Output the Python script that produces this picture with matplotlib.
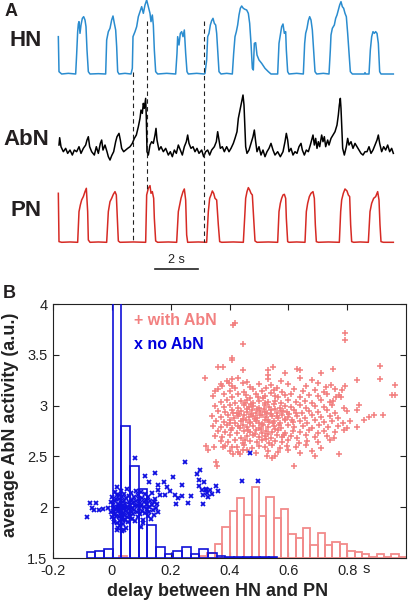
import matplotlib
matplotlib.use("Agg")
import matplotlib.pyplot as plt
from matplotlib.ticker import FormatStrFormatter
import numpy as np

plt.rcParams['font.family'] = ['Liberation Sans', 'DejaVu Sans']
plt.rcParams['axes.unicode_minus'] = False

# ---------------- Panel A data (frames at 64.5 frames/s, amplitudes a.u.) ----------------
FRAME_RATE = 64.5
hn_frames = [10,12,20,40,62,65,68,70,72,75,78,82,86,90,93,96,100,105,130,152,155,160,165,170,174,178,182,185,188,192,210,
             228,232,234,240,245,250,255,260,265,270,275,280,285,288,292,295,298,302,308,335,362,366,368,372,376,380,384,388,
             392,396,400,425,448,450,455,458,462,466,470,474,478,482,485,488,492,498,515,532,536,540,544,548,552,556,560,565,
             570,575,580,584,588,592,595,598,602,606,612,620,630,640,648,668,672,676,680,684,688,692,694,698,702,725,745,749,
             752,756,760,764,768,772,776,780,785,805,822,826,828,832,838,842,846,850,854,858,862,866,870,874,878,882,886,892,
             928,930,932,942,946,950,954,958,962,966,970,974,978,1015]
hn_amp = [112,7,0,2,0,60,127,150,157,122,147,167,172,162,142,72,7,0,1,0,102,127,137,162,174,152,132,82,7,0,2,
          0,17,112,127,142,172,187,202,182,207,222,202,182,157,177,147,72,7,0,2,0,62,112,87,122,127,112,132,
          62,7,0,2,0,2,42,112,122,147,160,167,152,147,122,72,7,0,2,0,62,112,127,147,177,197,204,197,
          194,192,182,152,92,17,12,92,94,57,42,32,17,7,0,0,92,117,142,150,122,127,72,7,0,2,0,92,
          122,137,160,172,162,132,72,7,0,2,0,72,117,137,147,167,177,192,207,217,202,197,182,172,122,62,7,0,
          0,4,0,0,72,112,127,122,127,122,92,7,0,0]

abn_frames = [12,14,18,25,32,38,45,52,58,65,72,78,85,92,96,100,104,110,118,124,130,136,140,144,150,156,160,165,170,176,
              182,186,192,196,200,206,212,218,225,232,238,244,250,255,258,262,265,268,272,274,276,280,285,290,295,300,303,
              306,312,318,325,332,340,346,352,358,364,370,376,382,388,394,398,402,408,414,420,426,432,440,446,452,458,464,
              470,478,484,488,492,496,502,508,515,522,528,535,540,546,550,556,560,564,567,569,572,576,582,588,594,598,602,
              606,612,618,624,630,636,642,648,654,660,668,676,684,690,694,698,702,708,714,720,726,732,738,742,748,754,760,
              766,770,774,778,782,786,790,794,800,804,808,812,818,822,828,834,840,846,850,853,856,858,860,863,868,874,878,
              882,888,894,900,906,912,918,924,930,936,942,948,954,960,966,970,974,980,986,992,998,1004,1010,1015]
abn_amp = [20,42,15,0,10,-5,5,-10,5,0,15,-5,10,20,35,45,15,0,-10,15,-5,25,35,5,20,0,-15,-25,-12,0,
           30,45,55,35,10,0,5,10,15,25,40,50,75,100,125,115,145,130,160,100,0,-10,20,30,25,50,70,
           35,5,15,0,10,-10,0,-15,5,-5,20,5,-10,15,30,50,25,10,15,0,10,-5,5,-15,0,5,-10,
           5,15,30,60,35,10,15,0,15,0,10,25,40,60,100,130,150,170,140,90,15,-5,5,25,45,65,30,
           0,15,-10,5,-15,0,10,25,5,-10,0,-15,0,30,55,35,0,10,-10,0,-5,15,25,5,-10,5,0,
           20,35,50,20,40,10,30,15,50,30,45,15,35,20,40,50,60,80,110,140,160,130,80,10,-10,15,40,
           20,30,10,25,15,5,-5,-10,0,0,15,-5,5,20,35,50,25,0,15,5,20,0,10,-5]

pn_frames = [10,12,20,45,68,72,76,80,85,90,94,98,100,105,130,155,160,165,170,175,180,184,187,190,195,235,272,275,280,285,
             288,292,296,298,302,308,340,365,370,374,378,384,388,392,395,398,430,455,460,464,468,472,476,480,485,490,494,
             500,535,565,570,572,576,580,584,588,592,596,600,606,640,668,672,676,680,684,688,692,694,698,702,725,750,754,
             758,763,768,774,778,781,784,790,820,853,857,860,865,870,876,880,884,887,890,896,915,940,945,950,956,962,968,
             972,975,978,985,1015]
pn_amp = [147,2,0,1,0,92,112,127,137,152,162,92,7,0,1,0,92,122,132,144,152,142,72,4,0,1,0,142,162,170,
          147,152,132,72,4,0,1,0,92,112,132,152,160,127,22,0,1,0,92,132,142,154,147,132,127,52,2,
          0,1,0,92,132,152,164,157,147,142,72,4,0,1,0,92,117,132,142,144,132,72,2,0,1,0,92,
          117,137,147,152,132,52,2,0,1,0,92,127,147,160,154,142,137,52,2,0,1,0,92,117,132,137,152,
          127,52,2,0,0]

marker_frames = [234, 275, 448]   # dashed alignment lines
SCALEBAR_S = 2.0

# ---------------- Panel B data ----------------
blue_edges_start, blue_width = -0.086, 0.0295
blue_tops = [1.556, 1.572, 1.589, 4.5, 2.80, 2.41, 2.18, 1.825, 1.61, 1.536, 1.572, 1.61, 1.536, 1.589,
             1.545, 1.52, 1.51, 1.51, 1.505, 1.505, 1.505, 1.505]
red_edges_start, red_width = 0.325, 0.025
red_tops = [1.55, 1.64, 1.81, 1.965, 2.09, 1.92, 2.20, 1.91, 2.10, 1.89, 1.98, 1.74, 1.70, 1.80, 1.63, 1.75,
            1.63, 1.66, 1.64, 1.57, 1.556, 1.536, 1.513, 1.536, 1.51, 1.536, 1.51]
red_small_x = [0.025, 0.30]
red_small_tops = [1.52, 1.515]

red_pts = [
 (0.412,3.79),(0.420,3.81),(0.447,3.61),(0.794,3.71),(0.794,3.65),(0.409,3.47),(0.409,3.45),(0.361,3.38),
 (0.379,3.38),(0.316,3.27),(0.447,3.35),(0.532,3.35),(0.532,3.30),(0.549,3.38),(0.589,3.32),(0.630,3.36),
 (0.639,3.35),(0.712,3.32),(0.752,3.36),(0.911,3.39),(0.911,3.26),(0.832,3.25),(0.729,3.18),(0.962,3.20),
 (0.954,3.10),(0.962,3.10),(0.793,3.19),(0.783,3.15),(0.773,3.10),(0.761,3.08),(0.752,3.05),(0.840,3.01),
 (0.832,2.96),(0.922,2.91),(0.891,2.91),(0.874,2.89),(0.857,2.86),(0.834,2.79),(0.320,2.60),(0.328,2.56),
 (0.347,2.59),(0.379,2.59),(0.425,2.59),(0.354,2.44),(0.356,2.41),(0.620,2.41),(0.692,2.50),(0.771,2.52),
 (0.413,2.52),(0.436,2.52),(0.447,2.56),(0.527,2.50),(0.544,2.48),(0.555,2.50),(0.351,3.14),(0.373,3.19),
 (0.399,3.22),(0.407,3.26),
 (0.39,3.24),(0.43,3.27),(0.46,3.23),(0.53,3.26),(0.575,3.24),(0.64,3.27),(0.68,3.25),
 (0.37,3.21),(0.41,3.19),(0.445,3.22),(0.47,3.18),(0.50,3.21),(0.54,3.20),(0.56,3.17),(0.60,3.21),(0.66,3.19),(0.70,3.22),(0.745,3.20),
 (0.36,3.16),(0.40,3.14),(0.42,3.17),(0.45,3.13),(0.48,3.16),(0.51,3.14),(0.525,3.17),(0.55,3.15),(0.58,3.13),(0.62,3.16),(0.65,3.14),(0.69,3.15),(0.72,3.13),(0.76,3.16),
 (0.345,3.09),(0.38,3.11),(0.41,3.08),(0.43,3.11),(0.455,3.10),(0.47,3.07),(0.49,3.11),(0.52,3.09),(0.54,3.12),(0.565,3.08),(0.59,3.10),(0.61,3.11),(0.64,3.08),(0.67,3.10),(0.70,3.09),(0.73,3.11),(0.78,3.08),
 (0.37,3.04),(0.39,3.06),(0.42,3.03),(0.44,3.05),(0.46,3.06),(0.48,3.03),(0.50,3.05),(0.515,3.07),(0.53,3.04),(0.555,3.05),(0.575,3.03),(0.60,3.06),(0.625,3.04),(0.655,3.05),(0.68,3.03),(0.71,3.06),(0.74,3.04),
 (0.35,3.00),(0.38,2.99),(0.40,3.01),(0.43,2.98),(0.45,3.01),(0.465,2.99),(0.48,3.00),(0.50,2.98),(0.52,3.01),(0.535,2.99),(0.55,3.02),(0.57,2.98),(0.59,3.00),(0.61,2.99),(0.64,3.01),(0.66,2.98),(0.69,3.00),(0.72,2.99),(0.75,3.01),(0.79,2.98),
 (0.36,2.95),(0.385,2.94),(0.41,2.96),(0.425,2.93),(0.44,2.95),(0.46,2.94),(0.475,2.96),(0.49,2.93),(0.505,2.95),(0.52,2.94),(0.54,2.96),(0.56,2.93),(0.575,2.95),(0.595,2.94),(0.62,2.96),(0.645,2.93),(0.67,2.95),(0.70,2.94),(0.73,2.96),(0.76,2.93),(0.80,2.95),
 (0.34,2.90),(0.37,2.89),(0.395,2.91),(0.415,2.88),(0.43,2.90),(0.45,2.91),(0.465,2.89),(0.48,2.90),(0.495,2.88),(0.51,2.91),(0.525,2.89),(0.545,2.90),(0.565,2.88),(0.58,2.91),(0.60,2.89),(0.63,2.90),(0.655,2.88),(0.68,2.91),(0.71,2.89),(0.74,2.90),(0.77,2.88),
 (0.355,2.85),(0.38,2.84),(0.40,2.86),(0.42,2.83),(0.44,2.85),(0.455,2.86),(0.47,2.84),(0.49,2.85),(0.50,2.83),(0.52,2.86),(0.535,2.84),(0.55,2.85),(0.57,2.83),(0.59,2.86),(0.615,2.84),(0.64,2.85),(0.665,2.83),(0.69,2.86),(0.72,2.84),(0.75,2.85),(0.785,2.83),(0.81,2.85),
 (0.345,2.80),(0.37,2.79),(0.39,2.81),(0.41,2.78),(0.43,2.80),(0.445,2.81),(0.46,2.79),(0.48,2.80),(0.50,2.78),(0.515,2.81),(0.53,2.79),(0.55,2.80),(0.575,2.78),(0.60,2.81),(0.62,2.79),(0.65,2.80),(0.68,2.78),(0.705,2.81),(0.735,2.79),(0.77,2.80),(0.80,2.78),
 (0.36,2.75),(0.385,2.74),(0.405,2.76),(0.425,2.73),(0.45,2.75),(0.47,2.74),(0.49,2.76),(0.51,2.73),(0.525,2.75),(0.545,2.74),(0.565,2.76),(0.59,2.73),(0.615,2.75),(0.64,2.74),(0.67,2.76),(0.70,2.73),(0.72,2.75),(0.76,2.74),(0.79,2.76),
 (0.35,2.70),(0.375,2.69),(0.40,2.71),(0.44,2.68),(0.46,2.70),(0.48,2.71),(0.50,2.69),(0.52,2.70),(0.54,2.68),(0.56,2.71),(0.58,2.69),(0.61,2.70),(0.63,2.68),(0.66,2.71),(0.69,2.69),(0.73,2.70),(0.755,2.68),
 (0.37,2.65),(0.395,2.64),(0.42,2.66),(0.445,2.63),(0.47,2.65),(0.495,2.64),(0.51,2.66),(0.535,2.63),(0.555,2.65),(0.58,2.64),(0.60,2.66),(0.635,2.63),(0.665,2.65),(0.70,2.64),(0.74,2.66),
 (0.385,2.60),(0.41,2.59),(0.45,2.61),(0.475,2.58),(0.50,2.60),(0.52,2.59),(0.545,2.61),(0.57,2.58),(0.595,2.60),(0.625,2.59),(0.66,2.61),(0.71,2.58),
 (0.40,2.55),(0.43,2.54),(0.46,2.56),(0.49,2.53),(0.53,2.55),(0.565,2.54),(0.60,2.56),(0.64,2.53),(0.68,2.55),
 (0.432,2.92),(0.447,2.87),(0.458,2.97),(0.468,2.83),(0.473,2.92),(0.486,2.87),(0.492,2.97),(0.503,2.91),
 (0.511,2.82),(0.517,2.97),(0.528,2.93),(0.531,2.86),(0.542,2.92),(0.548,2.83),(0.553,2.97),(0.563,2.90),
 (0.568,2.81),(0.583,2.95),(0.587,2.87),(0.602,2.92),(0.451,3.03),(0.472,3.02),(0.497,3.08),(0.522,3.03),
 (0.556,3.09),(0.437,2.78),(0.462,2.76),(0.488,2.72),(0.507,2.77),(0.532,2.72),(0.556,2.77),(0.412,2.93),
 (0.401,2.83),(0.612,2.86),(0.627,2.93),(0.452,2.66),(0.523,2.67),(0.585,2.71),
]

blue_pts = [
 (-0.084,1.90),(-0.073,2.04),(-0.054,2.04),(-0.066,1.99),(-0.060,1.97),(-0.042,1.97),(-0.030,1.98),(-0.013,1.99),
 (0.078,2.48),(0.248,2.44),(0.299,2.37),(0.288,2.33),(0.146,2.34),(0.112,2.31),(0.125,2.25),(0.208,2.30),
 (0.178,2.25),(0.157,2.22),(0.186,2.20),(0.237,2.22),(0.297,2.21),(0.319,2.18),(0.319,2.17),(0.360,2.16),
 (0.339,2.13),(0.328,2.10),(0.311,2.12),(0.269,2.11),(0.237,2.11),(0.214,2.12),(0.225,2.09),(0.260,2.04),
 (0.218,2.03),(0.311,2.03),(0.157,2.17),(0.163,2.12),(0.180,2.12),(0.197,2.16),(0.043,1.78),(0.100,1.81),
 (0.106,1.84),(0.442,2.26),(0.498,2.26),(0.470,2.53),(0.296,2.27),(0.313,2.25),(0.308,2.17),(0.325,2.14),
 (0.335,2.17),(0.354,2.21),
 (0.000,2.10),(0.004,2.02),(0.006,1.95),(0.008,1.88),(0.010,2.15),(0.012,2.06),(0.013,1.98),(0.015,1.91),
 (0.016,1.84),(0.018,2.20),(0.019,2.12),(0.020,2.03),(0.021,1.96),(0.022,1.80),(0.024,1.90),(0.025,2.08),
 (0.026,2.00),(0.027,1.93),(0.028,1.86),(0.030,2.16),(0.031,2.04),(0.032,1.97),(0.033,1.77),(0.034,1.89),
 (0.035,2.10),(0.036,2.01),(0.037,1.94),(0.038,1.83),(0.040,2.06),(0.041,1.99),(0.042,1.92),(0.043,2.13),
 (0.044,1.87),(0.046,2.03),(0.047,1.96),(0.048,1.80),(0.049,2.09),(0.050,1.90),(0.052,2.00),(0.053,2.18),
 (0.054,1.94),(0.055,1.85),(0.057,2.05),(0.058,1.98),(0.060,2.11),(0.061,1.91),(0.063,2.02),(0.064,1.96),
 (0.066,2.14),(0.067,1.88),(0.069,2.07),(0.070,1.99),(0.072,2.04),(0.073,1.93),(0.075,2.10),(0.076,1.97),
 (0.078,2.01),(0.080,1.86),(0.081,2.16),(0.083,2.06),(0.085,1.95),(0.087,2.02),(0.088,2.12),(0.090,1.90),
 (0.092,2.08),(0.093,1.99),(0.095,2.04),(0.097,1.93),(0.098,2.15),(0.100,2.01),(0.102,1.96),(0.104,2.09),
 (0.106,1.87),(0.108,2.05),(0.110,2.00),(0.112,2.13),(0.114,1.94),(0.116,2.07),(0.118,1.98),(0.120,2.03),
 (0.122,1.91),(0.124,2.10),(0.126,2.00),(0.128,1.95),(0.131,2.06),(0.133,1.88),(0.135,2.02),(0.138,2.14),
 (0.140,1.97),(0.143,2.05),(0.145,1.92),(0.148,2.08),(0.150,1.99),(0.153,2.03),(0.156,1.95),
 (0.005,1.99),(0.011,1.93),(0.017,2.00),(0.023,1.97),(0.029,2.01),(0.033,1.91),(0.039,1.98),(0.045,2.00),
 (0.014,2.08),(0.026,2.12),(0.007,1.85),(0.019,1.78),(0.028,1.82),(0.037,1.87),(-0.003,2.05),(-0.002,1.95),
 (0.002,1.90),
]

# ---------------- Figure ----------------
W, H = 408, 612
fig = plt.figure(figsize=(W/100, H/100), dpi=100)

# Panel A: axes covering the top of the figure, x in seconds, y in pixel rows
A_H = 278
axA = fig.add_axes([0, 1 - A_H/H, 1, A_H/H])
axA.set_xlim(-165/FRAME_RATE, 1059/FRAME_RATE)
axA.set_ylim(A_H, 0)
axA.axis('off')

def t(fr):
    return np.asarray(fr, dtype=float) / FRAME_RATE

hn_base, abn_base, pn_base = 74.0, 151.7, 242.3
axA.plot(t(hn_frames), hn_base - np.asarray(hn_amp)/3, color='#2a8ccf', lw=1.1)
axA.plot(t(abn_frames), abn_base - np.asarray(abn_amp)/3, color='black', lw=1.1)
axA.plot(t(pn_frames), pn_base - np.asarray(pn_amp)/3, color='#d62a24', lw=1.1)

dash_spans = [(72, 242), (21, 190), (21, 242)]
for fr, (y0, y1) in zip(marker_frames, dash_spans):
    axA.plot([fr/FRAME_RATE]*2, [y0, y1], color='#222222', lw=0.8, ls=(0, (4, 3)))

sb_start = 300/FRAME_RATE
axA.plot([sb_start, sb_start + SCALEBAR_S], [269, 269], color='#222222', lw=1.2)
axA.text(sb_start + SCALEBAR_S/2, 260, '2 s', ha='center', va='center', fontsize=9, color='#222222')

lab = dict(fontweight='bold', color='#231f20', ha='center', va='center')
fig.text(11/W, 1 - 12/H, 'A', fontsize=13, **lab)
fig.text(26/W, 1 - 41/H, 'HN', fontsize=16, **lab)
fig.text(26/W, 1 - 139.5/H, 'AbN', fontsize=16, **lab)
fig.text(25.5/W, 1 - 211/H, 'PN', fontsize=16, **lab)
fig.text(9/W, 1 - 293.5/H, 'B', fontsize=13, **lab)

# Panel B
axB = fig.add_axes([53/W, 54/H, 353/W, 254/H])
axB.set_xlim(-0.2, 1.0)
axB.set_ylim(1.5, 4.0)
base = 1.5

red_col = '#f28a8a'
blue_col = '#1010d8'

red_x = [red_edges_start + i*red_width for i in range(len(red_tops))]
axB.bar(red_x, np.asarray(red_tops) - base, bottom=base, width=red_width, align='edge',
        fill=False, edgecolor=red_col, lw=1.3, zorder=2)
axB.bar(red_small_x, np.asarray(red_small_tops) - base, bottom=base, width=red_width, align='edge',
        fill=False, edgecolor=red_col, lw=1.3, zorder=2)

blue_x = [blue_edges_start + i*blue_width for i in range(len(blue_tops))]
axB.bar(blue_x, np.asarray(blue_tops) - base, bottom=base, width=blue_width, align='edge',
        fill=False, edgecolor=blue_col, lw=1.2, zorder=3)

rx, ry = zip(*red_pts)
axB.plot(rx, ry, ls='none', marker='+', ms=4, mew=1.1, color='#f27f7f', zorder=4)
bx, by = zip(*blue_pts)
axB.plot(bx, by, ls='none', marker='x', ms=3.4, mew=1.3, color='#1010e0', zorder=5)

axB.set_xticks([-0.2, 0, 0.2, 0.4, 0.6, 0.8])
axB.set_yticks([1.5, 2, 2.5, 3, 3.5, 4])
axB.xaxis.set_major_formatter(FormatStrFormatter('%g'))
axB.yaxis.set_major_formatter(FormatStrFormatter('%g'))
axB.tick_params(direction='in', top=True, right=True, length=4, width=0.8, labelsize=10.5,
                colors='#222222', pad=4)
for s in axB.spines.values():
    s.set_linewidth(0.8)
    s.set_color('#222222')

axB.text(0.077, 3.84, '+ with AbN', color='#f28080', fontsize=11.5, fontweight='bold', va='center')
axB.text(0.077, 3.60, 'x no AbN', color='#0000dd', fontsize=11.5, fontweight='bold', va='center')

fig.text(366/W, 1 - 569/H, 's', fontsize=10.5, ha='center', va='center', color='#222222')
fig.text(218/W, 1 - 592/H, 'delay between HN and PN', fontsize=13, fontweight='bold',
         ha='center', va='center', color='#222222')
fig.text(11/W, 1 - 425/H, 'average AbN activity (a.u.)', fontsize=13, fontweight='bold',
         ha='center', va='center', rotation=90, color='#222222')

fig.savefig('out.png', dpi=100)
